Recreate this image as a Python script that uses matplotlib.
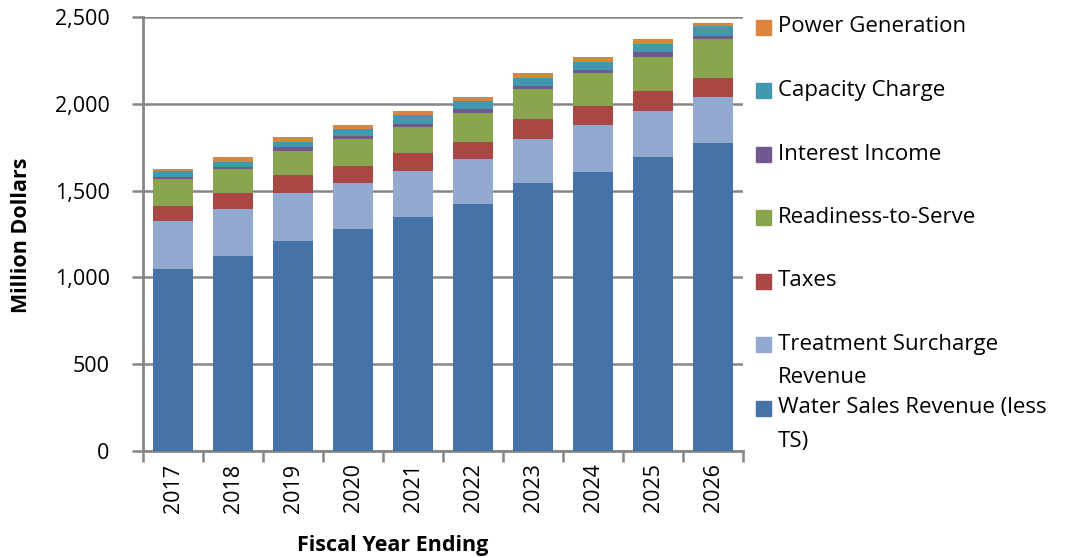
import matplotlib
matplotlib.use("Agg")
import matplotlib.pyplot as plt
from matplotlib.patches import Rectangle
import numpy as np

years = ["2017", "2018", "2019", "2020", "2021", "2022", "2023", "2024", "2025", "2026"]
water_sales = [1048, 1126, 1208, 1277, 1346, 1424, 1542, 1609, 1692, 1772]
treatment_surcharge = [278, 268, 278, 267, 267, 258, 255, 269, 266, 267]
taxes = [87, 90, 102, 99, 102, 100, 114, 111, 114, 111]
readiness_to_serve = [154, 139, 140, 154, 151, 163, 172, 187, 196, 221]
interest_income = [11, 11, 21, 19, 19, 23, 21, 20, 32, 21]
capacity_charge = [35, 32, 33, 37, 49, 46, 46, 46, 46, 58]
power_generation = [11, 27, 27, 25, 24, 23, 27, 26, 25, 14]

series_names = ["Water Sales Revenue (less\nTS)", "Treatment Surcharge\nRevenue", "Taxes",
                "Readiness-to-Serve", "Interest Income", "Capacity Charge", "Power Generation"]
series_values = [water_sales, treatment_surcharge, taxes, readiness_to_serve,
                 interest_income, capacity_charge, power_generation]
colors = ["#4572A7", "#93A9CF", "#AA4643", "#89A54E", "#71588F", "#4198AF", "#DB843D"]

plt.rcParams['font.family'] = ['Open Sans', 'DejaVu Sans']
W, H = 1065, 558
fig = plt.figure(figsize=(W / 100, H / 100), dpi=100)
ax = fig.add_axes([143 / W, 1 - 451 / H, 600 / W, 434 / H])

x = np.arange(len(years))
bottom = np.zeros(len(years))
for vals, col in zip(series_values, colors):
    ax.bar(x, vals, width=0.66, bottom=bottom, color=col, edgecolor='none', zorder=3)
    bottom += np.array(vals)

grey = "#868686"
FS = 15.5
ax.set_ylim(0, 2500)
ax.set_xlim(-0.5, len(years) - 0.5)
ax.set_yticks(np.arange(0, 2501, 500))
ax.set_yticklabels([f"{v:,}" for v in range(0, 2501, 500)], fontsize=FS)
ax.yaxis.grid(True, color=grey, linewidth=1.8, zorder=0)
ax.set_axisbelow(True)

ax.set_xticks(x)
ax.set_xticklabels(years, rotation=90, fontsize=FS)
ax.tick_params(axis='x', which='major', length=0, pad=9)
ax.set_xticks(np.arange(-0.5, len(years), 1.0), minor=True)
ax.tick_params(axis='x', which='minor', length=8, width=1.8, color=grey, direction='out')
ax.tick_params(axis='y', which='major', length=8, width=1.8, color=grey, direction='out', pad=16)

for s in ['top', 'right']:
    ax.spines[s].set_visible(False)
for s in ['left', 'bottom']:
    ax.spines[s].set_color(grey)
    ax.spines[s].set_linewidth(2)

fig.text(22 / W, 1 - 235 / H, "Million Dollars", rotation=90, fontsize=15.5, fontweight='bold',
         ha='center', va='center')
fig.text(393 / W, 1 - 545 / H, "Fiscal Year Ending", fontsize=15.5, fontweight='bold',
         ha='center', va='center')

# legend (top entry = last series)
for i, (name, col) in enumerate(zip(series_names[::-1], colors[::-1])):
    yc = 27 + i * 63.5
    fig.add_artist(Rectangle((756 / W, 1 - (yc + 7.5) / H), 15 / W, 15 / H,
                             transform=fig.transFigure, color=col))
    for j, ln in enumerate(name.split("\n")):
        fig.text(778 / W, 1 - (yc + j * 33) / H, ln, fontsize=16, ha='left', va='center')

fig.savefig("out.png", dpi=100)
